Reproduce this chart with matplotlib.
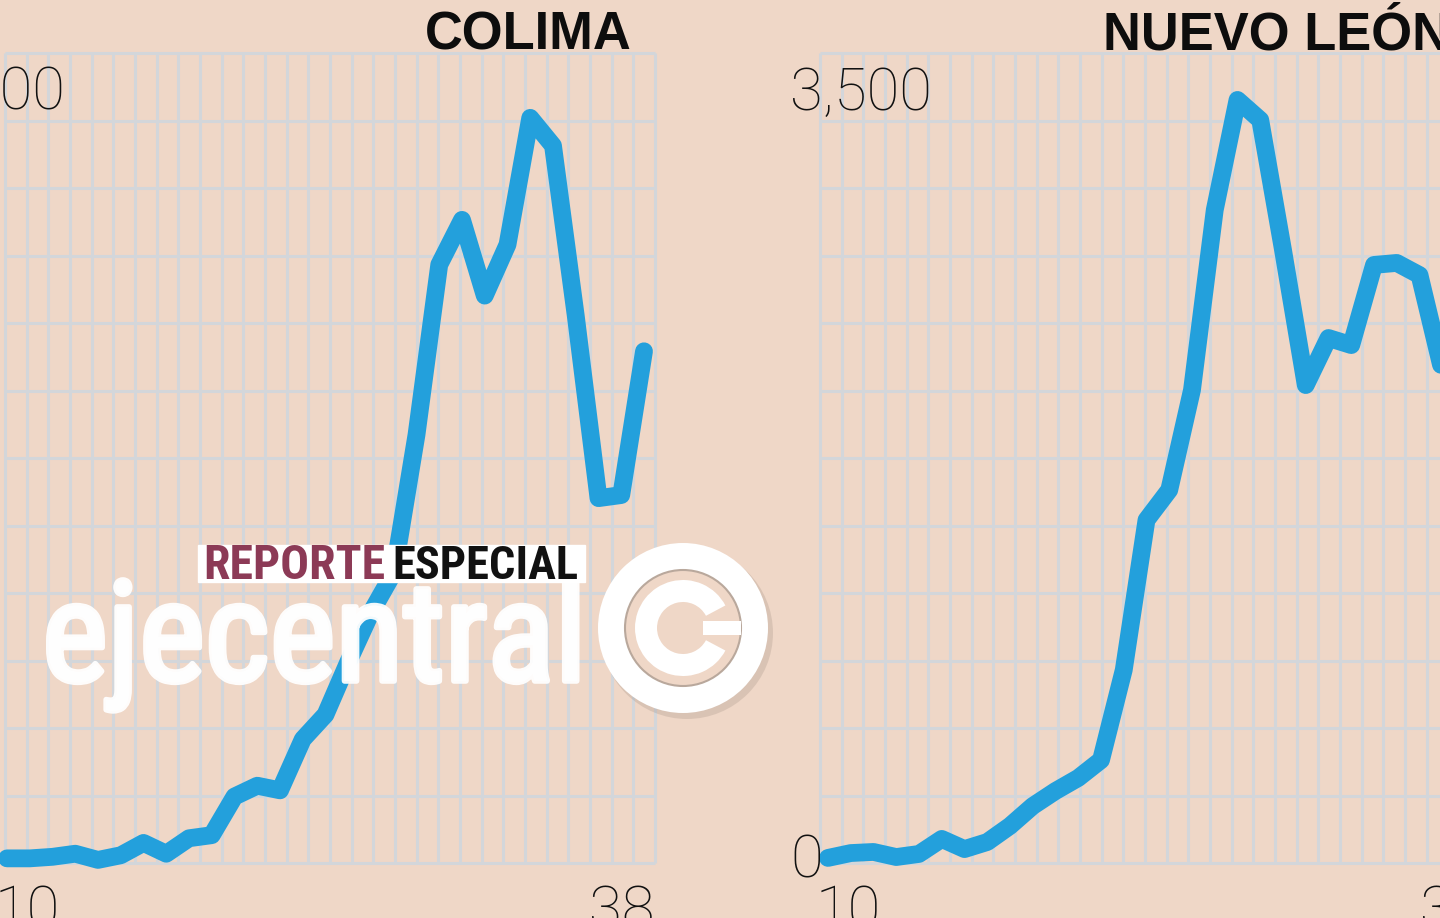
import numpy as np
import matplotlib
matplotlib.use("Agg")
import matplotlib.pyplot as plt
from matplotlib import font_manager as fm
from matplotlib import patheffects as pe
from matplotlib.patches import Circle, Wedge, Rectangle

# ---------------- data ----------------
weeks_colima = list(range(10, 39))
cases_colima = [3, 3, 4, 6, 2, 5, 13, 6, 16, 18, 43, 50, 47, 80, 96, 130, 162,
                188, 277, 387, 416, 367, 400, 482, 464, 354, 236, 238, 331]

weeks_nl = list(range(10, 38))
cases_nl = [23, 45, 50, 27, 41, 109, 63, 95, 168, 258, 326, 385, 466, 874, 1553,
            1689, 2142, 2957, 3455, 3364, 2776, 2164, 2377, 2345, 2708, 2717,
            2662, 2232]

title_colima = "COLIMA"
title_nl = "NUEVO LEÓN"
top_colima, top_label_colima = 500, "500"
top_nl, top_label_nl = 3500, "3,500"
first_week_label, last_week_label = "10", "38"

# ---------------- style ----------------
W, H = 1440, 918
BG = "#EFD7C7"
GRID = "#D3D6DA"
BLUE = "#23A0DC"
PX_PER_WEEK = 22.75


def available(fam):
    try:
        fm.findfont(fm.FontProperties(family=fam), fallback_to_default=False)
        return True
    except Exception:
        return False


def pick(*fams):
    for f in fams:
        if available(f):
            return f
    return "DejaVu Sans"


TITLE_FONT = pick("Liberation Sans", "Roboto Condensed", "DejaVu Sans")
BANNER_FONT = pick("Roboto Condensed", "Liberation Sans Narrow", "Liberation Sans")
NUM_FONT = pick("Roboto", "Open Sans", "Lato")
LOGO_FONT = pick("Liberation Sans Narrow", "Roboto Condensed", "Liberation Sans")
NUM_FS = 43

fig = plt.figure(figsize=(W / 100, H / 100), dpi=100, facecolor=BG)
renderer = fig.canvas.get_renderer()


def fx(px):
    return px / W


def fy(py):
    return 1 - py / H


def fit(t, target_w):
    bb = t.get_window_extent(renderer)
    t.set_fontsize(t.get_fontsize() * target_w / bb.width)


def make_panel(left_px, first_px, weeks, values, top_value, top_label,
               label_dx, last_dx):
    ax = fig.add_axes([fx(left_px), fy(863), 650 / W, 810 / H])
    ax.set_facecolor("none")
    x0 = weeks[0] - (first_px - left_px) / PX_PER_WEEK
    ax.set_xlim(x0, x0 + 650 / PX_PER_WEEK)
    ax.set_ylim(0, top_value * 810 / 773)
    for s in ax.spines.values():
        s.set_visible(False)
    ax.set_xticks([])
    ax.set_yticks([])
    ax.vlines(np.linspace(0, 1, 31), 0, 1, transform=ax.transAxes,
              colors=GRID, lw=2.2, clip_on=False, zorder=1)
    ax.hlines(np.linspace(0, 1, 13), 0, 1, transform=ax.transAxes,
              colors=GRID, lw=2.2, clip_on=False, zorder=1)
    ax.plot(weeks, values, color=BLUE, lw=12.8, solid_joinstyle="round",
            solid_capstyle="round", zorder=3, clip_on=False)
    numkw = dict(textcoords="offset pixels", ha="left", fontsize=NUM_FS,
                 family=NUM_FONT, fontweight="light", color="#111111",
                 zorder=6, annotation_clip=False)
    ax.annotate(top_label, xy=(0, top_value), xycoords=("axes fraction", "data"),
                xytext=(label_dx, -20), va="baseline", **numkw)
    ax.annotate("0", xy=(0, 0), xycoords=("axes fraction", "data"),
                xytext=(label_dx, -14), va="baseline", **numkw)
    ax.annotate(first_week_label, xy=(10, 0), xycoords="data",
                xytext=(-12, -21), va="top", **numkw)
    ax.annotate(last_week_label, xy=(38, 0), xycoords="data",
                xytext=(last_dx, -21), va="top", **numkw)
    return ax


make_panel(5, 7, weeks_colima, cases_colima, top_colima, top_label_colima, -37, -55)
make_panel(820, 828, weeks_nl, cases_nl, top_nl, top_label_nl, -30, -45)

# titles
t1 = fig.text(fx(425), fy(50), title_colima, ha="left", va="baseline",
              family=TITLE_FONT, fontweight="bold", fontsize=40, color="#0d0d0d")
fit(t1, 207)
fig.text(fx(1103), fy(50), title_nl, ha="left", va="baseline",
         family=TITLE_FONT, fontweight="bold", fontsize=t1.get_fontsize(),
         color="#0d0d0d")

# ---------------- watermark overlay ----------------
ov = fig.add_axes([0, 0, 1, 1])
ov.set_xlim(0, W)
ov.set_ylim(H, 0)
ov.axis("off")
ov.set_zorder(10)
ov.patch.set_visible(False)

lg = ov.text(42, 681, "ejecentral", ha="left", va="baseline", color="white",
             alpha=0.94, family=LOGO_FONT, fontsize=100, zorder=2)
fit(lg, 545)
lg.set_path_effects([pe.withStroke(linewidth=4, foreground="white")])

ov.add_patch(Rectangle((198, 545), 387, 37, color="white", zorder=5))
r1 = ov.text(203, 579, "REPORTE", ha="left", va="baseline", color="#8C3A56",
             family=BANNER_FONT, fontweight="bold", fontsize=30, zorder=6)
fit(r1, 181)
r2 = ov.text(392, 579, "ESPECIAL", ha="left", va="baseline", color="#111111",
             family=BANNER_FONT, fontweight="bold", fontsize=30, zorder=6)
fit(r2, 186)

cx, cy = 683, 628
ov.add_patch(Circle((cx + 4, cy + 5), 86, color="#8f7e72", alpha=0.22, lw=0, zorder=1))
ov.add_patch(Circle((cx, cy), 85, color="white", lw=0, zorder=2))
ov.add_patch(Circle((cx, cy), 58, facecolor=BG, edgecolor="#b9a89c", lw=1.5, zorder=3))
ov.add_patch(Wedge((cx, cy), 48, 28, 332, width=22, color="white", lw=0, zorder=4))
ov.add_patch(Rectangle((cx + 20, cy - 7), 38, 14, color="white", lw=0, zorder=4))

fig.savefig("out.png", dpi=100, facecolor=BG)
